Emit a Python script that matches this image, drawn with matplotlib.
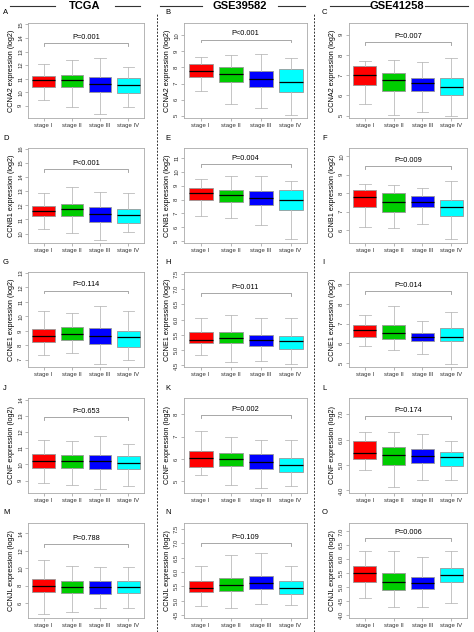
import numpy as np
import matplotlib
matplotlib.use("Agg")
import matplotlib.pyplot as plt
from matplotlib.lines import Line2D

plt.rcParams['font.family'] = ['Liberation Sans', 'DejaVu Sans']

stages = ['stage I', 'stage II', 'stage III', 'stage IV']
colors = ['#FF0000', '#00CD00', '#0000FF', '#00FFFF']
datasets = ['TCGA', 'GSE39582', 'GSE41258']
genes = ['CCNA2', 'CCNB1', 'CCNE1', 'CCNF', 'CCNJL']
letters = ['A', 'B', 'C', 'D', 'E', 'F', 'G', 'H', 'I', 'J', 'K', 'L', 'M', 'N', 'O']

# per panel: (whislo, q1, med, q3, whishi) for stage I..IV
box_A = [(9.4, 10.4, 10.9, 11.2, 12.1), (8.9, 10.35, 10.9, 11.3, 12.4),
         (8.4, 10.0, 10.6, 11.1, 12.5), (8.9, 9.95, 10.55, 11.05, 11.85)]
box_B = [(6.55, 7.4, 7.8, 8.2, 8.65), (5.75, 7.1, 7.6, 8.0, 8.75),
         (5.5, 6.8, 7.3, 7.75, 8.85), (5.05, 6.5, 7.1, 7.9, 8.6)]
box_C = [(5.6, 6.5, 7.0, 7.45, 7.7), (5.05, 6.2, 6.75, 7.1, 7.75),
         (5.2, 6.2, 6.6, 6.85, 7.65), (5.0, 6.0, 6.4, 6.85, 7.85)]
box_D = [(10.3, 11.25, 11.6, 11.95, 12.85), (10.05, 11.25, 11.7, 12.1, 13.3),
         (9.55, 10.85, 11.4, 11.9, 12.95), (10.1, 10.75, 11.3, 11.75, 12.9)]
box_E = [(6.85, 7.95, 8.5, 8.8, 9.45), (6.65, 7.8, 8.35, 8.65, 9.7),
         (6.15, 7.6, 8.1, 8.6, 9.7), (5.15, 7.25, 8.0, 8.7, 9.35)]
box_F = [(6.15, 7.25, 7.8, 8.15, 8.5), (6.1, 7.0, 7.5, 8.0, 8.45),
         (6.35, 7.25, 7.5, 7.85, 8.3), (5.55, 6.75, 7.25, 7.65, 8.65)]
box_G = [(7.3, 8.25, 8.65, 9.15, 10.4), (7.45, 8.35, 8.8, 9.25, 10.2),
         (6.7, 8.1, 8.65, 9.2, 10.75), (6.95, 7.85, 8.55, 9.0, 10.35)]
box_H = [(4.85, 5.25, 5.33, 5.6, 6.05), (4.6, 5.22, 5.4, 5.6, 6.15),
         (4.65, 5.15, 5.35, 5.5, 6.05), (4.55, 5.05, 5.3, 5.48, 6.05)]
box_I = [(5.85, 6.35, 6.7, 6.95, 7.45), (5.65, 6.2, 6.55, 6.95, 7.9),
         (5.45, 6.1, 6.35, 6.55, 7.15), (4.95, 6.1, 6.3, 6.8, 7.6)]
box_J = [(8.85, 9.75, 10.2, 10.65, 11.5), (8.7, 9.75, 10.2, 10.6, 11.45),
         (8.5, 9.7, 10.2, 10.6, 11.75), (8.65, 9.7, 10.1, 10.5, 11.25)]
box_K = [(5.3, 5.65, 6.05, 6.35, 7.25), (4.85, 5.7, 5.98, 6.25, 7.0),
         (4.7, 5.55, 5.85, 6.2, 6.85), (4.8, 5.4, 5.75, 6.05, 6.85)]
box_L = [(4.8, 5.23, 5.47, 5.95, 6.3), (4.15, 5.0, 5.4, 5.73, 6.32),
         (4.42, 5.08, 5.35, 5.63, 6.22), (4.42, 4.97, 5.3, 5.5, 5.93)]
box_M = [(4.8, 7.3, 8.0, 8.8, 11.0), (5.0, 7.2, 7.9, 8.6, 10.3),
         (5.5, 7.1, 7.8, 8.6, 10.2), (5.4, 7.2, 7.9, 8.6, 10.2)]
box_N = [(4.8, 5.3, 5.45, 5.7, 6.2), (4.75, 5.35, 5.55, 5.8, 6.6),
         (4.9, 5.4, 5.6, 5.85, 6.65), (4.85, 5.25, 5.45, 5.7, 6.2)]
box_O = [(4.6, 5.2, 5.5, 5.75, 6.3), (4.3, 4.9, 5.2, 5.5, 6.3),
         (4.3, 4.95, 5.15, 5.35, 6.1), (4.45, 5.2, 5.45, 5.7, 6.3)]
boxes = [box_A, box_B, box_C, box_D, box_E, box_F, box_G, box_H, box_I,
         box_J, box_K, box_L, box_M, box_N, box_O]

pvals = ['P=0.001', 'P<0.001', 'P=0.007', 'P<0.001', 'P=0.004', 'P=0.009',
         'P=0.114', 'P=0.011', 'P=0.014', 'P=0.653', 'P=0.002', 'P=0.174',
         'P=0.788', 'P=0.109', 'P=0.006']
bracket_y = [13.6, 9.73, 8.64, 14.57, 10.56, 9.45, 11.79, 6.86, 8.67,
             12.9, 7.95, 6.93, 12.8, 7.0, 6.75]
ylims = [(8.1, 15.1), (4.86, 10.76), (4.89, 9.57),
         (9.33, 16.05), (4.88, 11.7), (5.31, 10.44),
         (6.5, 13.07), (4.45, 7.56), (4.8, 9.63),
         (8.23, 14.1), (4.48, 8.72), (3.9, 7.64),
         (4.3, 15.2), (4.4, 7.7), (3.9, 7.3)]
yticks = [np.arange(9, 16), np.arange(5, 11), np.arange(5, 10),
          np.arange(10, 17), np.arange(5, 12), np.arange(6, 11),
          np.arange(7, 14), np.arange(4.5, 7.6, 0.5), np.arange(5, 10),
          np.arange(9, 15), np.arange(5, 9), np.arange(4.0, 7.1, 1.0),
          np.arange(6, 15, 2), np.arange(4.5, 7.6, 0.5), np.arange(4.0, 7.1, 0.5)]
tickfmt = ['%d', '%d', '%d', '%d', '%d', '%d', '%d', '%.1f', '%d',
           '%d', '%d', '%.1f', '%d', '%.1f', '%.1f']

W, H = 474, 632
fig = plt.figure(figsize=(W / 100, H / 100), dpi=100)

col_left = [28, 184, 349]
col_width = [116, 123, 118]
row_top = [23, 148, 272, 398, 523]
ax_h = 95
gray = '#999999'

for r in range(5):
    for c in range(3):
        i = r * 3 + c
        x0, w, y0 = col_left[c], col_width[c], row_top[r]
        ax = fig.add_axes([x0 / W, 1 - (y0 + ax_h) / H, w / W, ax_h / H])
        stats = []
        for s, (lo, q1, med, q3, hi) in enumerate(boxes[i]):
            stats.append(dict(whislo=lo, q1=q1, med=med, q3=q3, whishi=hi,
                              label=stages[s], fliers=[]))
        bp = ax.bxp(stats, positions=[1, 2, 3, 4], widths=0.8, patch_artist=True,
                    showfliers=False,
                    boxprops=dict(edgecolor=gray, linewidth=0.6),
                    whiskerprops=dict(color='#BBBBBB', linewidth=0.6),
                    capprops=dict(color='#BBBBBB', linewidth=0.6),
                    medianprops=dict(color='black', linewidth=0.9))
        for patch, col in zip(bp['boxes'], colors):
            patch.set_facecolor(col)
        for cap in bp['caps']:
            mid = cap.get_xdata().mean()
            cap.set_xdata([mid - 0.2, mid + 0.2])
        ax.set_xlim(0.45, 4.55)
        ax.set_ylim(*ylims[i])
        ax.set_yticks(yticks[i])
        ax.set_yticklabels([tickfmt[i] % v for v in yticks[i]], rotation=90,
                           va='center', fontsize=4.3, color='#333333')
        ax.set_xticks([1, 2, 3, 4])
        ax.set_xticklabels(stages, fontsize=4.3, color='#333333')
        ax.tick_params(length=2, width=0.5, color=gray, pad=1.5)
        for sp in ax.spines.values():
            sp.set_color('#AAAAAA')
            sp.set_linewidth(0.6)
        ax.set_ylabel(genes[r] + ' expression (log2)', fontsize=5.2, labelpad=2)
        # significance bracket
        yb = bracket_y[i]
        span = ylims[i][1] - ylims[i][0]
        d = span * 0.03
        ax.plot([1, 1, 4, 4], [yb - d, yb, yb, yb - d], color=gray, lw=0.6)
        ax.text(2.5, yb + span * 0.025, pvals[i], ha='center', va='bottom',
                fontsize=5.3)
        fig.text((x0 - 25 if c == 0 else x0 - 19 if c == 1 else x0 - 27) / W,
                 1 - (y0 - 10) / H, letters[i], fontsize=5.5,
                 ha='left', va='center')

# column titles with flanking lines
title_x = [85, 240, 397]
line_segs = [((10, 55), (115, 140)), ((160, 202), (278, 305)),
             ((330, 370), (425, 468))]
for t, tx, segs in zip(datasets, title_x, line_segs):
    fig.text(tx / W, 1 - 6 / H, t, ha='center', va='center', fontsize=8,
             fontweight='bold')
    for a, b in segs:
        fig.add_artist(Line2D([a / W, b / W], [1 - 6 / H, 1 - 6 / H],
                              color='#333333', lw=0.8))

# dashed separators between datasets
for sx in [157, 314]:
    fig.add_artist(Line2D([sx / W, sx / W], [0, 1 - 14 / H], color='#333333',
                          lw=0.7, linestyle=(0, (2, 1.5))))

fig.savefig('out.png', dpi=100)
